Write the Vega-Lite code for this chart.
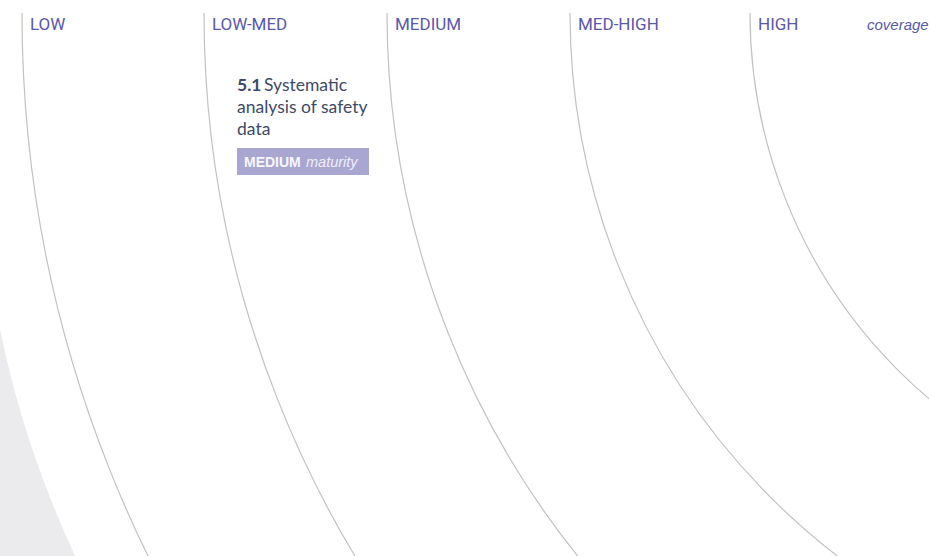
{
  "$schema": "https://vega.github.io/schema/vega-lite/v6.json",
  "width": 929,
  "height": 556,
  "autosize": {"type": "none"},
  "padding": 0,
  "background": "white",
  "config": {"view": {"stroke": null}},
  "datasets": {
    "rings": [
      {"level": "LOW", "r": 1233},
      {"level": "LOW-MED", "r": 1051},
      {"level": "MEDIUM", "r": 868},
      {"level": "MED-HIGH", "r": 685},
      {"level": "HIGH", "r": 505}
    ],
    "outer": [{"r": 1000, "r2": 3000}],
    "items": [
      {"id": "5.1", "title1": "Systematic", "title2": ["analysis of safety", "data"], "coverage": "LOW-MED", "maturity": "MEDIUM"}
    ]
  },
  "layer": [
    {
      "data": {"name": "outer"},
      "mark": {"type": "arc", "clip": true, "theta": 3.14159265, "theta2": 4.71238898, "fill": "#ebebed", "strokeWidth": 0},
      "encoding": {
        "x": {"datum": 275, "type": "quantitative", "scale": {"domain": [326, 1255], "reverse": true, "nice": false, "zero": false}, "axis": null},
        "y": {"datum": 130, "type": "quantitative", "scale": {"domain": [0, 556], "reverse": true, "nice": false, "zero": false}, "axis": null},
        "radius": {"field": "r", "type": "quantitative", "scale": {"type": "linear", "domain": [0, 1000], "range": [0, 1000], "zero": true}},
        "radius2": {"field": "r2"}
      }
    },
    {
      "data": {"name": "rings"},
      "mark": {"type": "arc", "clip": true, "theta": 3.14159265, "theta2": 4.71238898, "filled": false, "stroke": "#c2c2c2", "strokeWidth": 1.2},
      "encoding": {
        "x": {"datum": 0, "type": "quantitative"},
        "y": {"datum": 13, "type": "quantitative"},
        "radius": {"field": "r", "type": "quantitative"},
        "radius2": {"field": "r"}
      }
    },
    {
      "data": {"name": "rings"},
      "mark": {"type": "text", "align": "left", "baseline": "alphabetic", "dx": 8, "font": "Roboto", "fontSize": 17, "color": "#5a58a8"},
      "encoding": {
        "x": {"field": "r", "type": "quantitative"},
        "y": {"datum": 30, "type": "quantitative"},
        "text": {"field": "level"}
      }
    },
    {
      "data": {"name": "items"},
      "mark": {"type": "text", "text": "coverage", "align": "left", "baseline": "alphabetic", "font": "Liberation Sans", "fontStyle": "italic", "fontSize": 15, "color": "#5a58a8"},
      "encoding": {
        "x": {"datum": 388, "type": "quantitative"},
        "y": {"datum": 30, "type": "quantitative"}
      }
    },
    {
      "data": {"name": "items"},
      "mark": {"type": "text", "align": "left", "baseline": "alphabetic", "font": "Lato", "fontWeight": "bold", "fontSize": 17.5, "color": "#3d4a68"},
      "encoding": {
        "x": {"datum": 1018, "type": "quantitative"},
        "y": {"datum": 91, "type": "quantitative"},
        "text": {"field": "id"}
      }
    },
    {
      "data": {"name": "items"},
      "mark": {"type": "text", "align": "left", "baseline": "alphabetic", "font": "Lato", "fontSize": 17.5, "color": "#3d4a68"},
      "encoding": {
        "x": {"datum": 991, "type": "quantitative"},
        "y": {"datum": 91, "type": "quantitative"},
        "text": {"field": "title1"}
      }
    },
    {
      "data": {"name": "items"},
      "mark": {"type": "text", "align": "left", "baseline": "alphabetic", "font": "Lato", "fontSize": 17.5, "lineHeight": 22, "color": "#3d4a68"},
      "encoding": {
        "x": {"datum": 1018, "type": "quantitative"},
        "y": {"datum": 113, "type": "quantitative"},
        "text": {"field": "title2"}
      }
    },
    {
      "data": {"name": "items"},
      "mark": {"type": "rect", "color": "#a9a7d1"},
      "encoding": {
        "x": {"datum": 1018, "type": "quantitative"},
        "x2": {"datum": 886},
        "y": {"datum": 148, "type": "quantitative"},
        "y2": {"datum": 175}
      }
    },
    {
      "data": {"name": "items"},
      "mark": {"type": "text", "align": "left", "baseline": "alphabetic", "font": "Liberation Sans", "fontWeight": "bold", "fontSize": 14, "color": "#f6f6fc"},
      "encoding": {
        "x": {"datum": 1011, "type": "quantitative"},
        "y": {"datum": 167, "type": "quantitative"},
        "text": {"field": "maturity"}
      }
    },
    {
      "data": {"name": "items"},
      "mark": {"type": "text", "text": "maturity", "align": "left", "baseline": "alphabetic", "font": "Liberation Sans", "fontStyle": "italic", "fontSize": 14.5, "color": "#eeeef8"},
      "encoding": {
        "x": {"datum": 949, "type": "quantitative"},
        "y": {"datum": 167, "type": "quantitative"}
      }
    }
  ]
}
